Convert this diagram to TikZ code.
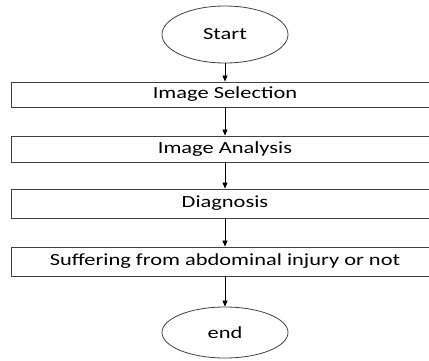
\documentclass[tikz,border=0pt]{standalone}
\usepackage{fontspec}
\setmainfont[FakeStretch=1.32]{Carlito}
\usetikzlibrary{shapes.geometric,arrows.meta}

\begin{document}
\begin{tikzpicture}[x=1pt,y=-1pt,font=\fontsize{17}{19}\selectfont,
  term/.style={draw=black!75,ellipse,line width=0.8pt,minimum width=126pt,minimum height=57pt,inner sep=0pt},
  stepbox/.style={draw=black!75,line width=0.9pt,minimum width=428pt,inner sep=0pt},
  a/.style={-{Triangle[length=6pt,width=5pt]},draw=black,line width=0.8pt}]
\useasboundingbox (0,0) rectangle (429,360);

\node[term](start) at (225,34.5){Start};
\node[stepbox,minimum height=25pt](sel) at (225,94.5){Image Selection};
\node[stepbox,minimum height=26pt](ana) at (225,149){Image Analysis};
\node[stepbox,minimum height=29pt](diag) at (225,203.5){Diagnosis};
\node[stepbox,minimum height=29pt](res) at (225,261.5){Suffering from abdominal injury or not};
\node[term,minimum height=51pt](end) at (225,332.5){end};

\draw[a](start.south)--(sel.north); \draw[a](sel.south)--(ana.north);
\draw[a](ana.south)--(diag.north); \draw[a](diag.south)--(res.north);
\draw[a](res.south)--(end.north);
\end{tikzpicture}
\end{document}
